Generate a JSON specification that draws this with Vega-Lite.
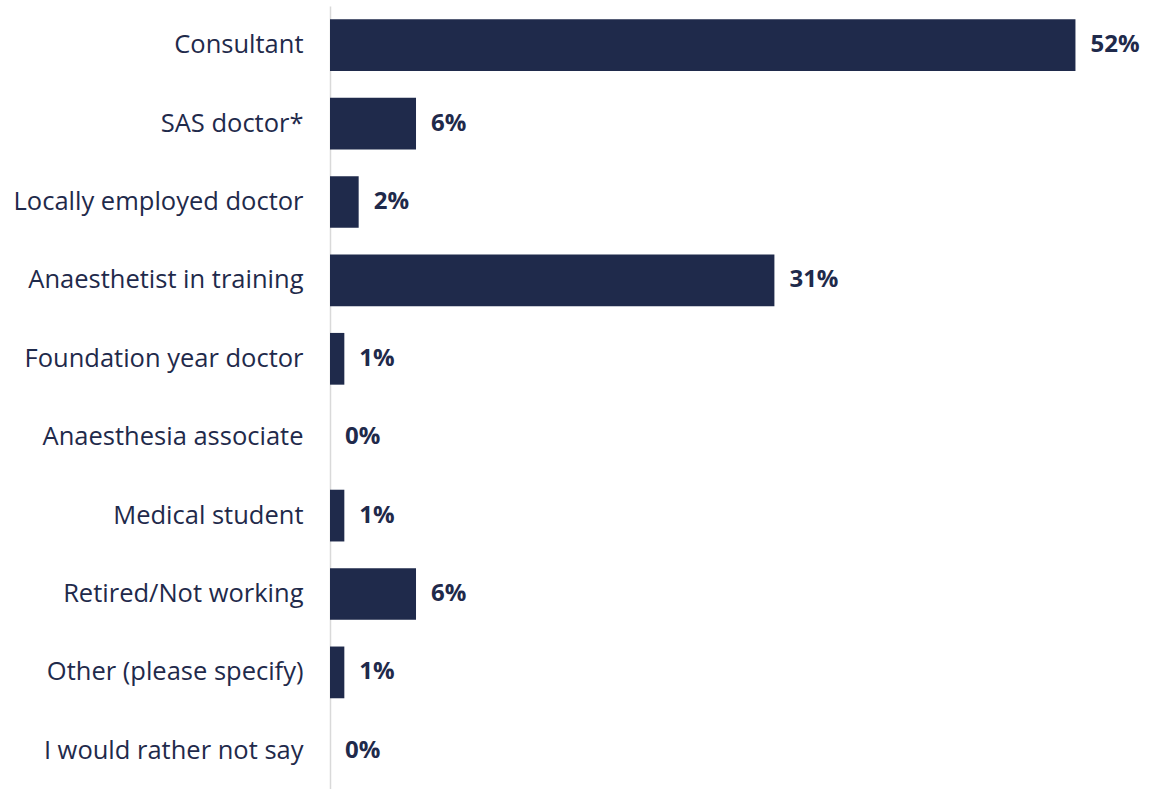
{
  "$schema": "https://vega.github.io/schema/vega-lite/v6.json",
  "autosize": {"type": "none"},
  "padding": {"left": 330, "top": 6, "right": 0, "bottom": 0},
  "width": 820,
  "height": 784,
  "background": "white",
  "config": {"view": {"stroke": null}, "font": "Open Sans"},
  "data": {
    "values": [
      {"role": "Consultant", "pct": 0.52},
      {"role": "SAS doctor*", "pct": 0.06},
      {"role": "Locally employed doctor", "pct": 0.02},
      {"role": "Anaesthetist in training", "pct": 0.31},
      {"role": "Foundation year doctor", "pct": 0.01},
      {"role": "Anaesthesia associate", "pct": 0},
      {"role": "Medical student", "pct": 0.01},
      {"role": "Retired/Not working", "pct": 0.06},
      {"role": "Other (please specify)", "pct": 0.01},
      {"role": "I would rather not say", "pct": 0}
    ]
  },
  "encoding": {
    "y": {
      "field": "role", "type": "nominal", "sort": null,
      "scale": {"paddingInner": 0.34, "paddingOuter": 0.17},
      "axis": {
        "title": null, "ticks": false, "domainColor": "#d9d9d9", "domainWidth": 1.5,
        "labelFontSize": 25.5, "labelColor": "#1f2a4b", "labelPadding": 27, "labelFont": "Open Sans", "labelLimit": 400
      }
    },
    "x": {
      "field": "pct", "type": "quantitative",
      "scale": {"domain": [0, 0.572], "nice": false},
      "axis": null
    }
  },
  "layer": [
    {"mark": {"type": "bar", "color": "#1f2a4b"}},
    {
      "mark": {"type": "text", "align": "left", "dx": 15, "fontSize": 24, "fontWeight": "bold", "color": "#1f2a4b", "font": "Open Sans"},
      "encoding": {"text": {"field": "pct", "type": "quantitative", "format": ".0%"}}
    }
  ]
}
